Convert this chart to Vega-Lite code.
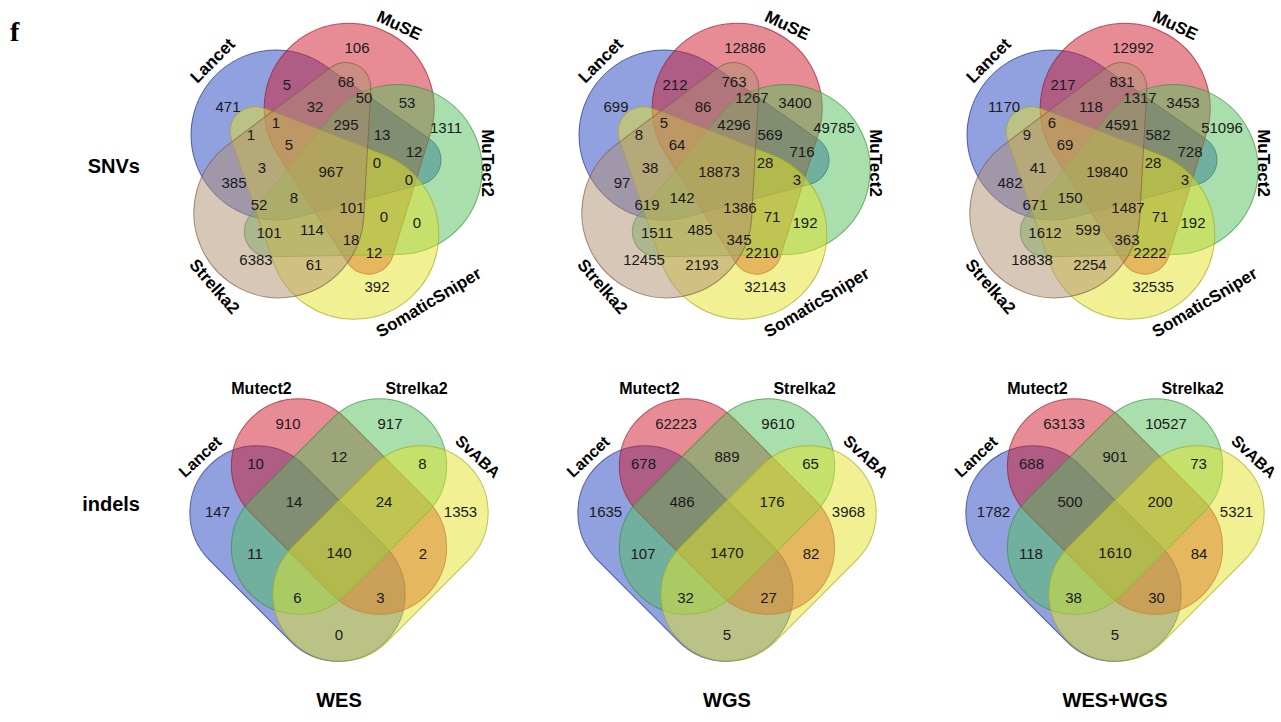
{
  "$schema": "https://vega.github.io/schema/vega-lite/v6.json",
  "padding": {"left": 10, "top": 5, "right": 5, "bottom": 5},
  "bounds": "flush",
  "config": {"view": {"stroke": null}, "font": "Liberation Sans"},
  "data": {"values": [
    {"kind":"fig","type":"SNVs","sample":"WES","x":-321,"y":-139,"v":"f"},
    {"kind":"rowlab","type":"SNVs","sample":"WES","x":-191,"y":-5,"v":"SNVs"},
    {"kind":"rowlab","type":"indels","sample":"WES","x":-191,"y":-7,"v":"indels"},

    {"kind":"shape","type":"SNVs","sample":"WES","k":0,"x":0,"y":0},
    {"kind":"shape","type":"SNVs","sample":"WES","k":1,"x":0,"y":0},
    {"kind":"shape","type":"SNVs","sample":"WES","k":2,"x":0,"y":0},
    {"kind":"shape","type":"SNVs","sample":"WES","k":3,"x":0,"y":0},
    {"kind":"shape","type":"SNVs","sample":"WES","k":4,"x":0,"y":0},
    {"kind":"shape","type":"SNVs","sample":"WGS","k":0,"x":0,"y":0},
    {"kind":"shape","type":"SNVs","sample":"WGS","k":1,"x":0,"y":0},
    {"kind":"shape","type":"SNVs","sample":"WGS","k":2,"x":0,"y":0},
    {"kind":"shape","type":"SNVs","sample":"WGS","k":3,"x":0,"y":0},
    {"kind":"shape","type":"SNVs","sample":"WGS","k":4,"x":0,"y":0},
    {"kind":"shape","type":"SNVs","sample":"WES+WGS","k":0,"x":0,"y":0},
    {"kind":"shape","type":"SNVs","sample":"WES+WGS","k":1,"x":0,"y":0},
    {"kind":"shape","type":"SNVs","sample":"WES+WGS","k":2,"x":0,"y":0},
    {"kind":"shape","type":"SNVs","sample":"WES+WGS","k":3,"x":0,"y":0},
    {"kind":"shape","type":"SNVs","sample":"WES+WGS","k":4,"x":0,"y":0},
    {"kind":"shape","type":"indels","sample":"WES","k":0,"x":-33.5,"y":41.5},
    {"kind":"shape","type":"indels","sample":"WES","k":1,"x":8,"y":-5.5},
    {"kind":"shape","type":"indels","sample":"WES","k":2,"x":8,"y":-5.5},
    {"kind":"shape","type":"indels","sample":"WES","k":3,"x":49.5,"y":41.5},
    {"kind":"shape","type":"indels","sample":"WGS","k":0,"x":-33.5,"y":41.5},
    {"kind":"shape","type":"indels","sample":"WGS","k":1,"x":8,"y":-5.5},
    {"kind":"shape","type":"indels","sample":"WGS","k":2,"x":8,"y":-5.5},
    {"kind":"shape","type":"indels","sample":"WGS","k":3,"x":49.5,"y":41.5},
    {"kind":"shape","type":"indels","sample":"WES+WGS","k":0,"x":-33.5,"y":41.5},
    {"kind":"shape","type":"indels","sample":"WES+WGS","k":1,"x":8,"y":-5.5},
    {"kind":"shape","type":"indels","sample":"WES+WGS","k":2,"x":8,"y":-5.5},
    {"kind":"shape","type":"indels","sample":"WES+WGS","k":3,"x":49.5,"y":41.5},

    {"kind":"label","type":"SNVs","sample":"WES","set":"Lancet","x":-118,"y":-111},
    {"kind":"label","type":"SNVs","sample":"WES","set":"MuSE","x":68,"y":-146},
    {"kind":"label","type":"SNVs","sample":"WES","set":"MuTect2","x":156,"y":-9},
    {"kind":"label","type":"SNVs","sample":"WES","set":"SomaticSniper","x":98,"y":131},
    {"kind":"label","type":"SNVs","sample":"WES","set":"Strelka2","x":-117,"y":115},
    {"kind":"label","type":"SNVs","sample":"WGS","set":"Lancet","x":-118,"y":-111},
    {"kind":"label","type":"SNVs","sample":"WGS","set":"MuSE","x":68,"y":-146},
    {"kind":"label","type":"SNVs","sample":"WGS","set":"MuTect2","x":156,"y":-9},
    {"kind":"label","type":"SNVs","sample":"WGS","set":"SomaticSniper","x":98,"y":131},
    {"kind":"label","type":"SNVs","sample":"WGS","set":"Strelka2","x":-117,"y":115},
    {"kind":"label","type":"SNVs","sample":"WES+WGS","set":"Lancet","x":-118,"y":-111},
    {"kind":"label","type":"SNVs","sample":"WES+WGS","set":"MuSE","x":68,"y":-146},
    {"kind":"label","type":"SNVs","sample":"WES+WGS","set":"MuTect2","x":156,"y":-9},
    {"kind":"label","type":"SNVs","sample":"WES+WGS","set":"SomaticSniper","x":98,"y":131},
    {"kind":"label","type":"SNVs","sample":"WES+WGS","set":"Strelka2","x":-117,"y":115},
    {"kind":"label","type":"indels","sample":"WES","set":"Lancet","x":-130.5,"y":-55},
    {"kind":"label","type":"indels","sample":"WES","set":"Mutect2","x":-69.5,"y":-123},
    {"kind":"label","type":"indels","sample":"WES","set":"Strelka2","x":85.5,"y":-123},
    {"kind":"label","type":"indels","sample":"WES","set":"SvABA","x":146.5,"y":-55},
    {"kind":"label","type":"indels","sample":"WGS","set":"Lancet","x":-130.5,"y":-55},
    {"kind":"label","type":"indels","sample":"WGS","set":"Mutect2","x":-69.5,"y":-123},
    {"kind":"label","type":"indels","sample":"WGS","set":"Strelka2","x":85.5,"y":-123},
    {"kind":"label","type":"indels","sample":"WGS","set":"SvABA","x":146.5,"y":-55},
    {"kind":"label","type":"indels","sample":"WES+WGS","set":"Lancet","x":-130.5,"y":-55},
    {"kind":"label","type":"indels","sample":"WES+WGS","set":"Mutect2","x":-69.5,"y":-123},
    {"kind":"label","type":"indels","sample":"WES+WGS","set":"Strelka2","x":85.5,"y":-123},
    {"kind":"label","type":"indels","sample":"WES+WGS","set":"SvABA","x":146.5,"y":-55},

    {"kind":"count","type":"SNVs","sample":"WES","x":26,"y":-124,"v":"106"},
    {"kind":"count","type":"SNVs","sample":"WES","x":-103,"y":-65,"v":"471"},
    {"kind":"count","type":"SNVs","sample":"WES","x":-44,"y":-87,"v":"5"},
    {"kind":"count","type":"SNVs","sample":"WES","x":15,"y":-90,"v":"68"},
    {"kind":"count","type":"SNVs","sample":"WES","x":-16,"y":-65,"v":"32"},
    {"kind":"count","type":"SNVs","sample":"WES","x":33,"y":-74,"v":"50"},
    {"kind":"count","type":"SNVs","sample":"WES","x":76,"y":-69,"v":"53"},
    {"kind":"count","type":"SNVs","sample":"WES","x":-55,"y":-49,"v":"1"},
    {"kind":"count","type":"SNVs","sample":"WES","x":15,"y":-47,"v":"295"},
    {"kind":"count","type":"SNVs","sample":"WES","x":115,"y":-44,"v":"1311"},
    {"kind":"count","type":"SNVs","sample":"WES","x":-80,"y":-37,"v":"1"},
    {"kind":"count","type":"SNVs","sample":"WES","x":-42,"y":-27,"v":"5"},
    {"kind":"count","type":"SNVs","sample":"WES","x":51,"y":-37,"v":"13"},
    {"kind":"count","type":"SNVs","sample":"WES","x":83,"y":-20,"v":"12"},
    {"kind":"count","type":"SNVs","sample":"WES","x":-69,"y":-4,"v":"3"},
    {"kind":"count","type":"SNVs","sample":"WES","x":0,"y":0,"v":"967"},
    {"kind":"count","type":"SNVs","sample":"WES","x":46,"y":-9,"v":"0"},
    {"kind":"count","type":"SNVs","sample":"WES","x":78,"y":8,"v":"0"},
    {"kind":"count","type":"SNVs","sample":"WES","x":-97,"y":11,"v":"385"},
    {"kind":"count","type":"SNVs","sample":"WES","x":-37,"y":26,"v":"8"},
    {"kind":"count","type":"SNVs","sample":"WES","x":-72,"y":33,"v":"52"},
    {"kind":"count","type":"SNVs","sample":"WES","x":21,"y":36,"v":"101"},
    {"kind":"count","type":"SNVs","sample":"WES","x":53,"y":45,"v":"0"},
    {"kind":"count","type":"SNVs","sample":"WES","x":86,"y":51,"v":"0"},
    {"kind":"count","type":"SNVs","sample":"WES","x":-62,"y":61,"v":"101"},
    {"kind":"count","type":"SNVs","sample":"WES","x":-19,"y":58,"v":"114"},
    {"kind":"count","type":"SNVs","sample":"WES","x":20,"y":68,"v":"18"},
    {"kind":"count","type":"SNVs","sample":"WES","x":43,"y":81,"v":"12"},
    {"kind":"count","type":"SNVs","sample":"WES","x":-75,"y":88,"v":"6383"},
    {"kind":"count","type":"SNVs","sample":"WES","x":-17,"y":93,"v":"61"},
    {"kind":"count","type":"SNVs","sample":"WES","x":46,"y":115,"v":"392"},

    {"kind":"count","type":"SNVs","sample":"WGS","x":26,"y":-124,"v":"12886"},
    {"kind":"count","type":"SNVs","sample":"WGS","x":-103,"y":-65,"v":"699"},
    {"kind":"count","type":"SNVs","sample":"WGS","x":-44,"y":-87,"v":"212"},
    {"kind":"count","type":"SNVs","sample":"WGS","x":15,"y":-90,"v":"763"},
    {"kind":"count","type":"SNVs","sample":"WGS","x":-16,"y":-65,"v":"86"},
    {"kind":"count","type":"SNVs","sample":"WGS","x":33,"y":-74,"v":"1267"},
    {"kind":"count","type":"SNVs","sample":"WGS","x":76,"y":-69,"v":"3400"},
    {"kind":"count","type":"SNVs","sample":"WGS","x":-55,"y":-49,"v":"5"},
    {"kind":"count","type":"SNVs","sample":"WGS","x":15,"y":-47,"v":"4296"},
    {"kind":"count","type":"SNVs","sample":"WGS","x":115,"y":-44,"v":"49785"},
    {"kind":"count","type":"SNVs","sample":"WGS","x":-80,"y":-37,"v":"8"},
    {"kind":"count","type":"SNVs","sample":"WGS","x":-42,"y":-27,"v":"64"},
    {"kind":"count","type":"SNVs","sample":"WGS","x":51,"y":-37,"v":"569"},
    {"kind":"count","type":"SNVs","sample":"WGS","x":83,"y":-20,"v":"716"},
    {"kind":"count","type":"SNVs","sample":"WGS","x":-69,"y":-4,"v":"38"},
    {"kind":"count","type":"SNVs","sample":"WGS","x":0,"y":0,"v":"18873"},
    {"kind":"count","type":"SNVs","sample":"WGS","x":46,"y":-9,"v":"28"},
    {"kind":"count","type":"SNVs","sample":"WGS","x":78,"y":8,"v":"3"},
    {"kind":"count","type":"SNVs","sample":"WGS","x":-97,"y":11,"v":"97"},
    {"kind":"count","type":"SNVs","sample":"WGS","x":-37,"y":26,"v":"142"},
    {"kind":"count","type":"SNVs","sample":"WGS","x":-72,"y":33,"v":"619"},
    {"kind":"count","type":"SNVs","sample":"WGS","x":21,"y":36,"v":"1386"},
    {"kind":"count","type":"SNVs","sample":"WGS","x":53,"y":45,"v":"71"},
    {"kind":"count","type":"SNVs","sample":"WGS","x":86,"y":51,"v":"192"},
    {"kind":"count","type":"SNVs","sample":"WGS","x":-62,"y":61,"v":"1511"},
    {"kind":"count","type":"SNVs","sample":"WGS","x":-19,"y":58,"v":"485"},
    {"kind":"count","type":"SNVs","sample":"WGS","x":20,"y":68,"v":"345"},
    {"kind":"count","type":"SNVs","sample":"WGS","x":43,"y":81,"v":"2210"},
    {"kind":"count","type":"SNVs","sample":"WGS","x":-75,"y":88,"v":"12455"},
    {"kind":"count","type":"SNVs","sample":"WGS","x":-17,"y":93,"v":"2193"},
    {"kind":"count","type":"SNVs","sample":"WGS","x":46,"y":115,"v":"32143"},

    {"kind":"count","type":"SNVs","sample":"WES+WGS","x":26,"y":-124,"v":"12992"},
    {"kind":"count","type":"SNVs","sample":"WES+WGS","x":-103,"y":-65,"v":"1170"},
    {"kind":"count","type":"SNVs","sample":"WES+WGS","x":-44,"y":-87,"v":"217"},
    {"kind":"count","type":"SNVs","sample":"WES+WGS","x":15,"y":-90,"v":"831"},
    {"kind":"count","type":"SNVs","sample":"WES+WGS","x":-16,"y":-65,"v":"118"},
    {"kind":"count","type":"SNVs","sample":"WES+WGS","x":33,"y":-74,"v":"1317"},
    {"kind":"count","type":"SNVs","sample":"WES+WGS","x":76,"y":-69,"v":"3453"},
    {"kind":"count","type":"SNVs","sample":"WES+WGS","x":-55,"y":-49,"v":"6"},
    {"kind":"count","type":"SNVs","sample":"WES+WGS","x":15,"y":-47,"v":"4591"},
    {"kind":"count","type":"SNVs","sample":"WES+WGS","x":115,"y":-44,"v":"51096"},
    {"kind":"count","type":"SNVs","sample":"WES+WGS","x":-80,"y":-37,"v":"9"},
    {"kind":"count","type":"SNVs","sample":"WES+WGS","x":-42,"y":-27,"v":"69"},
    {"kind":"count","type":"SNVs","sample":"WES+WGS","x":51,"y":-37,"v":"582"},
    {"kind":"count","type":"SNVs","sample":"WES+WGS","x":83,"y":-20,"v":"728"},
    {"kind":"count","type":"SNVs","sample":"WES+WGS","x":-69,"y":-4,"v":"41"},
    {"kind":"count","type":"SNVs","sample":"WES+WGS","x":0,"y":0,"v":"19840"},
    {"kind":"count","type":"SNVs","sample":"WES+WGS","x":46,"y":-9,"v":"28"},
    {"kind":"count","type":"SNVs","sample":"WES+WGS","x":78,"y":8,"v":"3"},
    {"kind":"count","type":"SNVs","sample":"WES+WGS","x":-97,"y":11,"v":"482"},
    {"kind":"count","type":"SNVs","sample":"WES+WGS","x":-37,"y":26,"v":"150"},
    {"kind":"count","type":"SNVs","sample":"WES+WGS","x":-72,"y":33,"v":"671"},
    {"kind":"count","type":"SNVs","sample":"WES+WGS","x":21,"y":36,"v":"1487"},
    {"kind":"count","type":"SNVs","sample":"WES+WGS","x":53,"y":45,"v":"71"},
    {"kind":"count","type":"SNVs","sample":"WES+WGS","x":86,"y":51,"v":"192"},
    {"kind":"count","type":"SNVs","sample":"WES+WGS","x":-62,"y":61,"v":"1612"},
    {"kind":"count","type":"SNVs","sample":"WES+WGS","x":-19,"y":58,"v":"599"},
    {"kind":"count","type":"SNVs","sample":"WES+WGS","x":20,"y":68,"v":"363"},
    {"kind":"count","type":"SNVs","sample":"WES+WGS","x":43,"y":81,"v":"2222"},
    {"kind":"count","type":"SNVs","sample":"WES+WGS","x":-75,"y":88,"v":"18838"},
    {"kind":"count","type":"SNVs","sample":"WES+WGS","x":-17,"y":93,"v":"2254"},
    {"kind":"count","type":"SNVs","sample":"WES+WGS","x":46,"y":115,"v":"32535"},

    {"kind":"count","type":"indels","sample":"WES","x":-43,"y":-88,"v":"910"},
    {"kind":"count","type":"indels","sample":"WES","x":59,"y":-88,"v":"917"},
    {"kind":"count","type":"indels","sample":"WES","x":-75.5,"y":-48,"v":"10"},
    {"kind":"count","type":"indels","sample":"WES","x":8,"y":-55,"v":"12"},
    {"kind":"count","type":"indels","sample":"WES","x":91.5,"y":-48,"v":"8"},
    {"kind":"count","type":"indels","sample":"WES","x":-113.5,"y":0,"v":"147"},
    {"kind":"count","type":"indels","sample":"WES","x":-37,"y":-10,"v":"14"},
    {"kind":"count","type":"indels","sample":"WES","x":53,"y":-10,"v":"24"},
    {"kind":"count","type":"indels","sample":"WES","x":129.5,"y":0,"v":"1353"},
    {"kind":"count","type":"indels","sample":"WES","x":-76,"y":42,"v":"11"},
    {"kind":"count","type":"indels","sample":"WES","x":8,"y":41,"v":"140"},
    {"kind":"count","type":"indels","sample":"WES","x":92,"y":42,"v":"2"},
    {"kind":"count","type":"indels","sample":"WES","x":-33.5,"y":86,"v":"6"},
    {"kind":"count","type":"indels","sample":"WES","x":49.5,"y":86,"v":"3"},
    {"kind":"count","type":"indels","sample":"WES","x":8,"y":123,"v":"0"},

    {"kind":"count","type":"indels","sample":"WGS","x":-43,"y":-88,"v":"62223"},
    {"kind":"count","type":"indels","sample":"WGS","x":59,"y":-88,"v":"9610"},
    {"kind":"count","type":"indels","sample":"WGS","x":-75.5,"y":-48,"v":"678"},
    {"kind":"count","type":"indels","sample":"WGS","x":8,"y":-55,"v":"889"},
    {"kind":"count","type":"indels","sample":"WGS","x":91.5,"y":-48,"v":"65"},
    {"kind":"count","type":"indels","sample":"WGS","x":-113.5,"y":0,"v":"1635"},
    {"kind":"count","type":"indels","sample":"WGS","x":-37,"y":-10,"v":"486"},
    {"kind":"count","type":"indels","sample":"WGS","x":53,"y":-10,"v":"176"},
    {"kind":"count","type":"indels","sample":"WGS","x":129.5,"y":0,"v":"3968"},
    {"kind":"count","type":"indels","sample":"WGS","x":-76,"y":42,"v":"107"},
    {"kind":"count","type":"indels","sample":"WGS","x":8,"y":41,"v":"1470"},
    {"kind":"count","type":"indels","sample":"WGS","x":92,"y":42,"v":"82"},
    {"kind":"count","type":"indels","sample":"WGS","x":-33.5,"y":86,"v":"32"},
    {"kind":"count","type":"indels","sample":"WGS","x":49.5,"y":86,"v":"27"},
    {"kind":"count","type":"indels","sample":"WGS","x":8,"y":123,"v":"5"},

    {"kind":"count","type":"indels","sample":"WES+WGS","x":-43,"y":-88,"v":"63133"},
    {"kind":"count","type":"indels","sample":"WES+WGS","x":59,"y":-88,"v":"10527"},
    {"kind":"count","type":"indels","sample":"WES+WGS","x":-75.5,"y":-48,"v":"688"},
    {"kind":"count","type":"indels","sample":"WES+WGS","x":8,"y":-55,"v":"901"},
    {"kind":"count","type":"indels","sample":"WES+WGS","x":91.5,"y":-48,"v":"73"},
    {"kind":"count","type":"indels","sample":"WES+WGS","x":-113.5,"y":0,"v":"1782"},
    {"kind":"count","type":"indels","sample":"WES+WGS","x":-37,"y":-10,"v":"500"},
    {"kind":"count","type":"indels","sample":"WES+WGS","x":53,"y":-10,"v":"200"},
    {"kind":"count","type":"indels","sample":"WES+WGS","x":129.5,"y":0,"v":"5321"},
    {"kind":"count","type":"indels","sample":"WES+WGS","x":-76,"y":42,"v":"118"},
    {"kind":"count","type":"indels","sample":"WES+WGS","x":8,"y":41,"v":"1610"},
    {"kind":"count","type":"indels","sample":"WES+WGS","x":92,"y":42,"v":"84"},
    {"kind":"count","type":"indels","sample":"WES+WGS","x":-33.5,"y":86,"v":"38"},
    {"kind":"count","type":"indels","sample":"WES+WGS","x":49.5,"y":86,"v":"30"},
    {"kind":"count","type":"indels","sample":"WES+WGS","x":8,"y":123,"v":"5"}
  ]},
  "facet": {
    "row": {"field":"type","type":"nominal","sort":["SNVs","indels"],"title":null,"header":{"labels":false}},
    "column": {"field":"sample","type":"nominal","sort":["WES","WGS","WES+WGS"],"title":null,
      "header":{"labelOrient":"bottom","labelFont":"Liberation Sans","labelFontSize":20,"labelFontWeight":"bold","labelColor":"#000000","labelPadding":6}}
  },
  "spacing": {"row": 0, "column": 68},
  "spec": {
    "width": 320,
    "height": 340,
    "layer": [
      {
        "transform":[{"filter":"datum.kind=='shape' && datum.type=='SNVs'"}],
        "mark":{"type":"point","shape":"M -6.14 -106.56 L 99.37 -32.46 A 25 25 0 0 1 91.4 12.17 L -33.24 45.18 A 85 85 0 1 1 -6.14 -106.56 Z","size":4,"filled":true,"opacity":1,"fillOpacity":0.5,"strokeWidth":1,"strokeOpacity":0.7},
        "encoding":{
          "x":{"field":"x","type":"quantitative","scale":{"domain":[-152,168],"nice":false,"zero":false},"axis":null},
          "y":{"field":"y","type":"quantitative","scale":{"domain":[-167,173],"reverse":true,"nice":false,"zero":false},"axis":null},
          "angle":{"field":"k","type":"quantitative","scale":{"domain":[0,5],"range":[0,360]}},
          "fill":{"field":"k","type":"ordinal","scale":{"domain":[0,1,2,3,4],"range":["#2444c2","#d01a2c","#52c05c","#e4e42a","#b09070"]},"legend":null},
          "stroke":{"field":"k","type":"ordinal","scale":{"domain":[0,1,2,3,4],"range":["#1e2e90","#a01828","#3a9040","#a8a820","#806040"]},"legend":null}
        }
      },
      {
        "transform":[{"filter":"datum.kind=='shape' && datum.type=='indels' && datum.k<2"}],
        "mark":{"type":"point","shape":"M -57.5 -67 L 57.5 -67 A 67 67 0 0 1 57.5 67 L -57.5 67 A 67 67 0 0 1 -57.5 -67 Z","size":4,"angle":45,"filled":true,"opacity":1,"fillOpacity":0.5,"strokeWidth":1,"strokeOpacity":0.7},
        "encoding":{
          "x":{"field":"x","type":"quantitative","axis":null},
          "y":{"field":"y","type":"quantitative","axis":null},
          "fill":{"field":"k","type":"ordinal","legend":null},
          "stroke":{"field":"k","type":"ordinal","legend":null}
        }
      },
      {
        "transform":[{"filter":"datum.kind=='shape' && datum.type=='indels' && datum.k>=2"}],
        "mark":{"type":"point","shape":"M -57.5 -67 L 57.5 -67 A 67 67 0 0 1 57.5 67 L -57.5 67 A 67 67 0 0 1 -57.5 -67 Z","size":4,"angle":135,"filled":true,"opacity":1,"fillOpacity":0.5,"strokeWidth":1,"strokeOpacity":0.7},
        "encoding":{
          "x":{"field":"x","type":"quantitative","axis":null},
          "y":{"field":"y","type":"quantitative","axis":null},
          "fill":{"field":"k","type":"ordinal","legend":null},
          "stroke":{"field":"k","type":"ordinal","legend":null}
        }
      },
      {
        "transform":[{"filter":"datum.kind=='count'"}],
        "mark":{"type":"text","fontSize":15,"color":"#1a1a1a","font":"Liberation Sans"},
        "encoding":{
          "x":{"field":"x","type":"quantitative","axis":null},
          "y":{"field":"y","type":"quantitative","axis":null},
          "text":{"field":"v","type":"nominal"}
        }
      },
      {
        "transform":[{"filter":"datum.kind=='rowlab'"}],
        "mark":{"type":"text","fontSize":20,"fontWeight":"bold","align":"right","baseline":"middle","color":"#000000","font":"Liberation Sans"},
        "encoding":{"x":{"field":"x","type":"quantitative","axis":null},"y":{"field":"y","type":"quantitative","axis":null},"text":{"field":"v","type":"nominal"}}
      },
      {
        "transform":[{"filter":"datum.kind=='fig'"}],
        "mark":{"type":"text","fontSize":28,"fontWeight":"bold","align":"left","baseline":"middle","color":"#000000","font":"Liberation Serif"},
        "encoding":{"x":{"field":"x","type":"quantitative","axis":null},"y":{"field":"y","type":"quantitative","axis":null},"text":{"field":"v","type":"nominal"}}
      },
      {
        "transform":[{"filter":"datum.kind=='label' && datum.type=='SNVs' && datum.set=='Lancet'"}],
        "mark":{"type":"text","fontSize":17,"fontWeight":"bold","angle":315,"color":"#000000","font":"Liberation Sans"},
        "encoding":{"x":{"field":"x","type":"quantitative","axis":null},"y":{"field":"y","type":"quantitative","axis":null},"text":{"field":"set","type":"nominal"}}
      },
      {
        "transform":[{"filter":"datum.kind=='label' && datum.type=='SNVs' && datum.set=='MuSE'"}],
        "mark":{"type":"text","fontSize":17,"fontWeight":"bold","angle":25,"color":"#000000","font":"Liberation Sans"},
        "encoding":{"x":{"field":"x","type":"quantitative","axis":null},"y":{"field":"y","type":"quantitative","axis":null},"text":{"field":"set","type":"nominal"}}
      },
      {
        "transform":[{"filter":"datum.kind=='label' && datum.type=='SNVs' && datum.set=='MuTect2'"}],
        "mark":{"type":"text","fontSize":17,"fontWeight":"bold","angle":90,"color":"#000000","font":"Liberation Sans"},
        "encoding":{"x":{"field":"x","type":"quantitative","axis":null},"y":{"field":"y","type":"quantitative","axis":null},"text":{"field":"set","type":"nominal"}}
      },
      {
        "transform":[{"filter":"datum.kind=='label' && datum.type=='SNVs' && datum.set=='SomaticSniper'"}],
        "mark":{"type":"text","fontSize":17,"fontWeight":"bold","angle":329,"color":"#000000","font":"Liberation Sans"},
        "encoding":{"x":{"field":"x","type":"quantitative","axis":null},"y":{"field":"y","type":"quantitative","axis":null},"text":{"field":"set","type":"nominal"}}
      },
      {
        "transform":[{"filter":"datum.kind=='label' && datum.type=='SNVs' && datum.set=='Strelka2'"}],
        "mark":{"type":"text","fontSize":17,"fontWeight":"bold","angle":49,"color":"#000000","font":"Liberation Sans"},
        "encoding":{"x":{"field":"x","type":"quantitative","axis":null},"y":{"field":"y","type":"quantitative","axis":null},"text":{"field":"set","type":"nominal"}}
      },
      {
        "transform":[{"filter":"datum.kind=='label' && datum.type=='indels' && datum.set=='Lancet'"}],
        "mark":{"type":"text","fontSize":16,"fontWeight":"bold","angle":317,"color":"#000000","font":"Liberation Sans"},
        "encoding":{"x":{"field":"x","type":"quantitative","axis":null},"y":{"field":"y","type":"quantitative","axis":null},"text":{"field":"set","type":"nominal"}}
      },
      {
        "transform":[{"filter":"datum.kind=='label' && datum.type=='indels' && (datum.set=='Mutect2' || datum.set=='Strelka2')"}],
        "mark":{"type":"text","fontSize":16,"fontWeight":"bold","angle":0,"color":"#000000","font":"Liberation Sans"},
        "encoding":{"x":{"field":"x","type":"quantitative","axis":null},"y":{"field":"y","type":"quantitative","axis":null},"text":{"field":"set","type":"nominal"}}
      },
      {
        "transform":[{"filter":"datum.kind=='label' && datum.type=='indels' && datum.set=='SvABA'"}],
        "mark":{"type":"text","fontSize":16,"fontWeight":"bold","angle":43,"color":"#000000","font":"Liberation Sans"},
        "encoding":{"x":{"field":"x","type":"quantitative","axis":null},"y":{"field":"y","type":"quantitative","axis":null},"text":{"field":"set","type":"nominal"}}
      }
    ]
  }
}
